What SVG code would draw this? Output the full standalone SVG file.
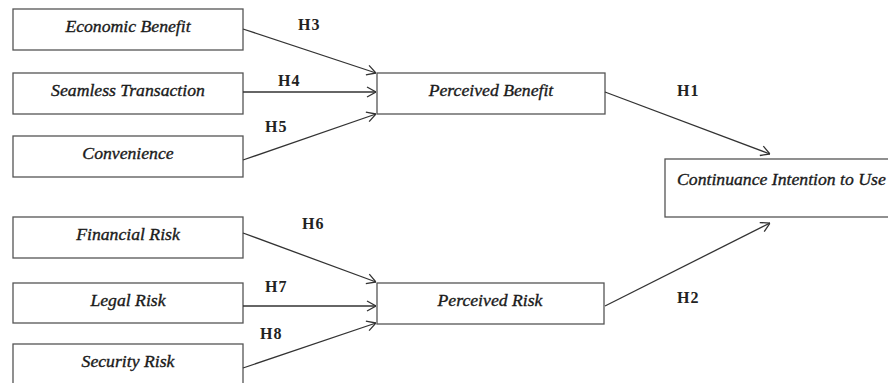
<svg xmlns="http://www.w3.org/2000/svg" width="888" height="383" viewBox="0 0 888 383">
<style>
.box{fill:#fff;stroke:#555;stroke-width:1.3}
.t{font-style:italic;font-size:17.7px;fill:#1a1a1a;stroke:#1a1a1a;stroke-width:0.35;text-anchor:middle}
.h{font-size:16px;font-weight:bold;letter-spacing:1px;fill:#222}
.c{stroke:#333;stroke-width:1.3;fill:none;marker-end:url(#a)}
</style>
<defs>
<marker id="a" viewBox="0 0 10 12" refX="10" refY="6" markerWidth="10" markerHeight="12" markerUnits="userSpaceOnUse" orient="auto">
<path d="M1,1 L10,6 L1,11" fill="none" stroke="#333" stroke-width="1.3"/>
</marker>
</defs>
<rect width="888" height="383" fill="#fff"/>
<g font-family="Liberation Serif, serif">
<g id="economic"><rect class="box" x="13" y="9" width="230" height="41"/><text class="t" x="128" y="32">Economic Benefit</text></g>
<g id="seamless"><rect class="box" x="13" y="73" width="230" height="41"/><text class="t" x="128" y="96">Seamless Transaction</text></g>
<g id="convenience"><rect class="box" x="13" y="136" width="230" height="41"/><text class="t" x="128" y="159">Convenience</text></g>
<g id="financial"><rect class="box" x="13" y="217" width="230" height="41"/><text class="t" x="128" y="240">Financial Risk</text></g>
<g id="legal"><rect class="box" x="13" y="283" width="230" height="40"/><text class="t" x="128" y="306">Legal Risk</text></g>
<g id="security"><rect class="box" x="13" y="344" width="230" height="42"/><text class="t" x="128" y="367">Security Risk</text></g>
<g id="benefit"><rect class="box" x="377" y="73" width="228" height="41"/><text class="t" x="491" y="96">Perceived Benefit</text></g>
<g id="risk"><rect class="box" x="377" y="283" width="227" height="41"/><text class="t" x="490" y="306">Perceived Risk</text></g>
<g id="continuance"><rect class="box" x="665" y="159" width="230" height="58"/><text class="t" x="677" y="185" text-anchor="start" style="text-anchor:start">Continuance Intention to Use</text></g>
<g id="connectors">
<path class="c" d="M243,29 L376,73"/>
<path class="c" d="M243,92 L376,92"/>
<path class="c" d="M243,160 L376,114"/>
<path class="c" d="M243,233 L376,282"/>
<path class="c" d="M243,306 L376,306"/>
<path class="c" d="M243,368 L376,323"/>
<path class="c" d="M605,92 L770,154"/>
<path class="c" d="M605,306 L770,223"/>
<text class="h" x="298" y="30">H3</text>
<text class="h" x="278" y="86">H4</text>
<text class="h" x="265" y="132">H5</text>
<text class="h" x="302" y="229">H6</text>
<text class="h" x="265" y="292">H7</text>
<text class="h" x="260" y="339">H8</text>
<text class="h" x="677" y="96">H1</text>
<text class="h" x="677" y="303">H2</text>
</g>
</g>
</svg>
